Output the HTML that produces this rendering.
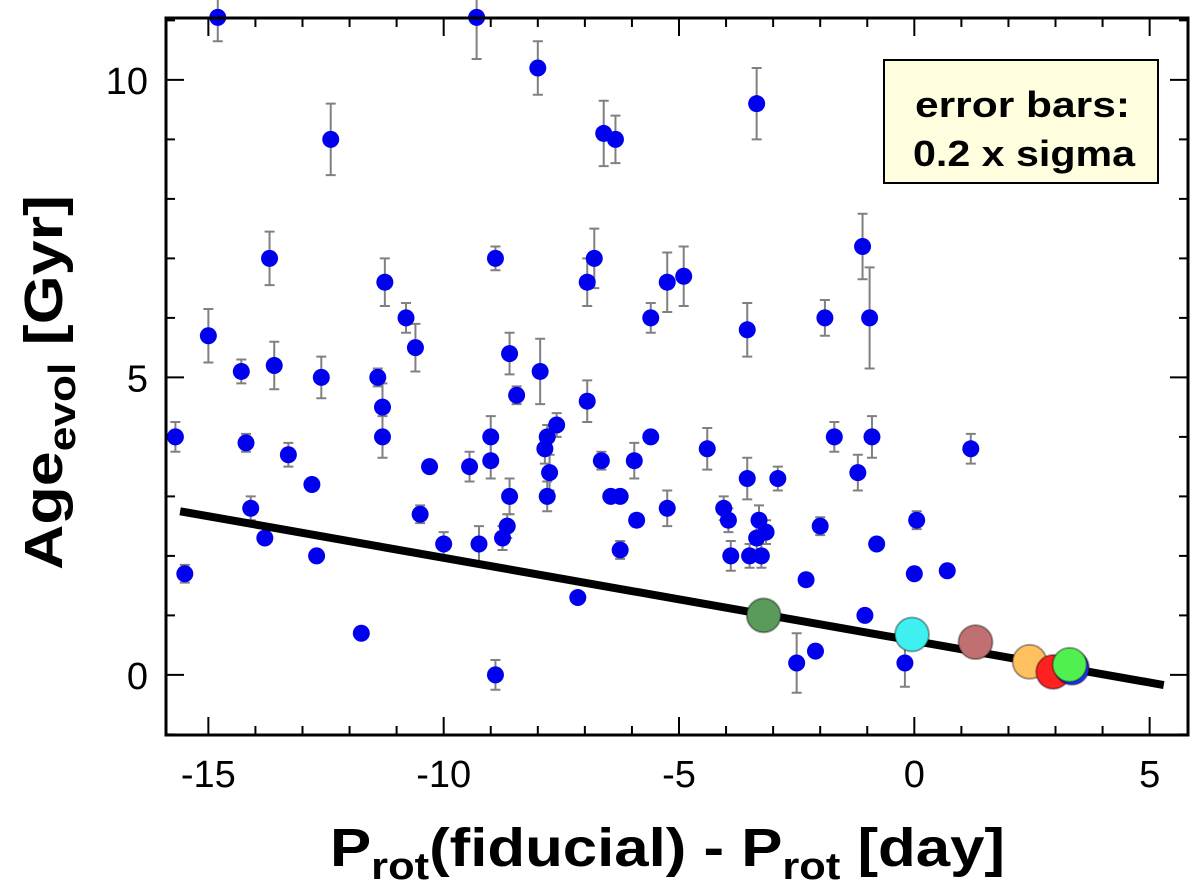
<!DOCTYPE html>
<html><head><meta charset="utf-8"><style>
body{margin:0;background:#fff;}
svg{display:block;font-family:"Liberation Sans",sans-serif;}
</style></head><body>
<svg id="chart" width="1200" height="886" viewBox="0 0 1200 886" xmlns="http://www.w3.org/2000/svg">
<g id="plot"></g>
<text x="330" y="866" font-weight="bold" font-size="54" textLength="675" lengthAdjust="spacingAndGlyphs">P<tspan font-size="38" dy="13">rot</tspan><tspan dy="-13">(fiducial) - P</tspan><tspan font-size="38" dy="13">rot</tspan><tspan dy="-13"> [day]</tspan></text>
<text transform="translate(62,570) rotate(-90)" font-weight="bold" font-size="54" textLength="375" lengthAdjust="spacingAndGlyphs">Age<tspan font-size="38" dy="13">evol</tspan><tspan dy="-13"> [Gyr]</tspan></text>
<g>
<rect x="884" y="60" width="274" height="123" fill="#ffffe0" stroke="#000" stroke-width="2"/>
<text x="915" y="117" font-weight="bold" font-size="36" textLength="215" lengthAdjust="spacingAndGlyphs">error bars:</text>
<text x="913" y="166" font-weight="bold" font-size="36" textLength="222" lengthAdjust="spacingAndGlyphs">0.2 x sigma</text>
</g>
</svg>
<script>
const xs=[-15.7,-15.5,-15.0,-14.8,-14.3,-14.2,-14.1,-13.8,-13.7,-13.6,-13.3,-12.8,-12.7,-12.4,-12.6,-11.75,-11.4,-11.3,-11.3,-11.25,-10.8,-10.6,-10.5,-10.3,-10.0,-9.45,-9.3,-9.25,-9.0,-9.0,-8.9,-8.9,-8.75,-8.65,-8.6,-8.6,-8.45,-8.0,-7.95,-7.85,-7.8,-7.8,-7.75,-7.6,-7.15,-6.95,-6.95,-6.8,-6.65,-6.6,-6.45,-6.35,-6.25,-6.25,-5.95,-5.9,-5.6,-5.6,-5.25,-5.25,-4.9,-4.4,-4.05,-3.95,-3.9,-3.55,-3.55,-3.5,-3.35,-3.35,-3.3,-3.25,-3.15,-2.9,-2.5,-2.3,-2.1,-2.0,-1.9,-1.7,-1.2,-1.1,-1.05,-0.95,-0.9,-0.8,-0.2,0.0,0.05,0.7,1.2];
const ys=[4.0,1.7,5.7,11.05,5.1,3.9,2.8,2.3,7.0,5.2,3.7,3.2,2.0,9.0,5.0,0.7,5.0,4.5,4.0,6.6,6.0,5.5,2.7,3.5,2.2,3.5,11.05,2.2,4.0,3.6,7.0,0.0,2.3,2.5,3.0,5.4,4.7,10.2,5.1,3.8,4.0,3.0,3.4,4.2,1.3,4.6,6.6,7.0,3.6,9.1,3.0,9.0,3.0,2.1,3.6,2.6,6.0,4.0,2.8,6.6,6.7,3.8,2.8,2.6,2.0,5.8,3.3,2.0,2.3,9.6,2.6,2.0,2.4,3.3,0.2,1.6,0.4,2.5,6.0,4.0,3.4,7.2,1.0,6.0,4.0,2.2,0.2,1.7,2.6,1.75,3.8];
const errs=[0.25,0.15,0.45,0.4,0.2,0.15,0.2,0.1,0.45,0.4,0.2,0.1,0.1,0.6,0.35,0.05,0.15,0.4,0.35,0.4,0.25,0.4,0.15,0.1,0.2,0.25,0.7,0.3,0.35,0.3,0.2,0.25,0.2,0.2,0.3,0.35,0.15,0.45,0.55,0.25,0.2,0.25,0.3,0.2,0.05,0.35,0.4,0.5,0.15,0.55,0.1,0.4,0.1,0.15,0.3,0.1,0.25,0.1,0.3,0.5,0.5,0.35,0.2,0.2,0.25,0.45,0.35,0.2,0.3,0.6,0.25,0.2,0.2,0.2,0.5,0.05,0.05,0.15,0.3,0.25,0.3,0.55,0.05,0.85,0.35,0.1,0.4,0.1,0.15,0.05,0.25];
const specialX=[-3.2,-0.05,1.3,2.45,2.95,3.35,3.3];
const specialY=[1.0,0.68,0.55,0.22,0.05,0.12,0.17];
const specialColors=["#5a9a5a","#40f0f0","#c07070","#ffc060","#ff2020","#2030ff","#50f050"];
const lineX=[-15.6,5.3];
const lineY=[2.75,-0.17];
const xTicks=[-15,-10,-5,0,5];
const yTicks=[0,5,10];
const X0=166,X1=1188,Y0=18,Y1=735,xmin=-15.9,xmax=5.815,ymin=-1.01,ymax=11.04;
const sx=v=>X0+(v-xmin)/(xmax-xmin)*(X1-X0);
const sy=v=>Y1-(v-ymin)/(ymax-ymin)*(Y1-Y0);
const NS="http://www.w3.org/2000/svg";
const g=document.getElementById('plot');
function mk(t,a){const e=document.createElementNS(NS,t);for(const k in a)e.setAttribute(k,a[k]);g.appendChild(e);return e;}
for(let v=-15;v<=5;v++){const maj=v%5===0,l=maj?18:9;
 const t1=mk('line',{x1:sx(v),x2:sx(v),y1:Y1,y2:Y1-l,stroke:'#000','stroke-width':2});
 
 const t2=mk('line',{x1:sx(v),x2:sx(v),y1:Y0,y2:Y0+l,stroke:'#000','stroke-width':2});
 }
for(let v=-1;v<=11;v++){const maj=v%5===0,l=maj?18:9;
 const t1=mk('line',{x1:X0,x2:X0+l,y1:sy(v),y2:sy(v),stroke:'#000','stroke-width':2});
 
 const t2=mk('line',{x1:X1,x2:X1-l,y1:sy(v),y2:sy(v),stroke:'#000','stroke-width':2});
 }
xTicks.forEach(v=>{const t=mk('text',{x:sx(v),y:787,'text-anchor':'middle','font-size':38});t.textContent=v;
 });
yTicks.forEach(v=>{const t=mk('text',{x:148,y:sy(v)+14,'text-anchor':'end','font-size':38});t.textContent=v;
 });
xs.forEach((x,i)=>{const cx=sx(x),y=ys[i],e=errs[i];
 const b=mk('path',{d:`M${cx},${sy(y+e)}V${sy(y-e)}M${cx-5},${sy(y+e)}H${cx+5}M${cx-5},${sy(y-e)}H${cx+5}`,stroke:'#808080','stroke-width':2,fill:'none'});
 });
xs.forEach((x,i)=>{const c=mk('circle',{cx:sx(x),cy:sy(ys[i]),r:8.5,fill:'#0000ee'});
 });
const ln=mk('line',{x1:sx(lineX[0]),y1:sy(lineY[0]),x2:sx(lineX[1]),y2:sy(lineY[1]),stroke:'#000','stroke-width':8});

specialX.forEach((x,i)=>{const c=mk('circle',{cx:sx(x),cy:sy(specialY[i]),r:17,fill:specialColors[i],stroke:'rgba(0,0,0,0.35)','stroke-width':2});
 });
const fr=mk('rect',{x:X0,y:Y0,width:X1-X0,height:Y1-Y0,fill:'none',stroke:'#000','stroke-width':3});

</script>
</body></html>
